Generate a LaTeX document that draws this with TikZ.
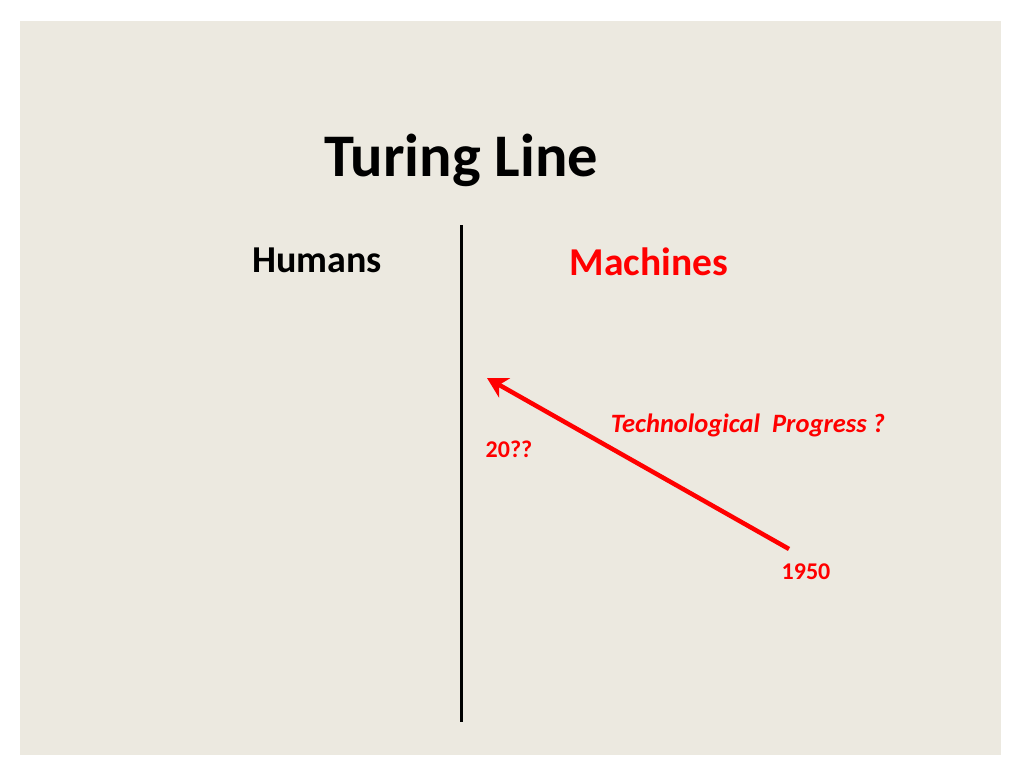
\documentclass[tikz,border=0pt]{standalone}
\usepackage{fontspec}
\setmainfont{Carlito}
\usetikzlibrary{arrows.meta}
\definecolor{slidebg}{RGB}{236,233,224}
\definecolor{slidered}{RGB}{255,0,0}

\begin{document}
\begin{tikzpicture}[x=1pt,y=-1pt,
  headtext/.style={font=\fontsize{38}{41}\selectfont\bfseries},
  yeartext/.style={font=\fontsize{24}{27}\selectfont\bfseries,text=slidered}]
  \useasboundingbox (0,0) rectangle (1024,776);
  \fill[slidebg] (20,21) rectangle (1001,755);

  \node[font=\fontsize{60.5}{64}\selectfont\bfseries] (title) at (461,160) {Turing Line};
  \node[headtext] (humans) at (317,260) {Humans};
  \node[headtext,font=\fontsize{39.5}{42}\selectfont\bfseries,text=slidered] (machines) at (649,262) {Machines};

  % the dividing line
  \coordinate (linetop) at (461,225);
  \coordinate (linebot) at (461,722);
  \draw[line width=3pt] (linetop) -- (linebot);

  % progress arrow
  \coordinate (start) at (789,549);
  \coordinate (goal) at (487,378);
  \draw[slidered,line width=4.5pt,-{Stealth[length=20pt,width=22pt,inset=6pt]}] (start) -- (goal);

  \node[font=\fontsize{26.5}{29}\selectfont\bfseries\itshape,text=slidered] (progress) at (748,425) {Technological\ \ Progress ?};
  \node[yeartext] (future) at (509,449) {20??};
  \node[yeartext] (past) at (806,572) {1950};
\end{tikzpicture}
\end{document}
